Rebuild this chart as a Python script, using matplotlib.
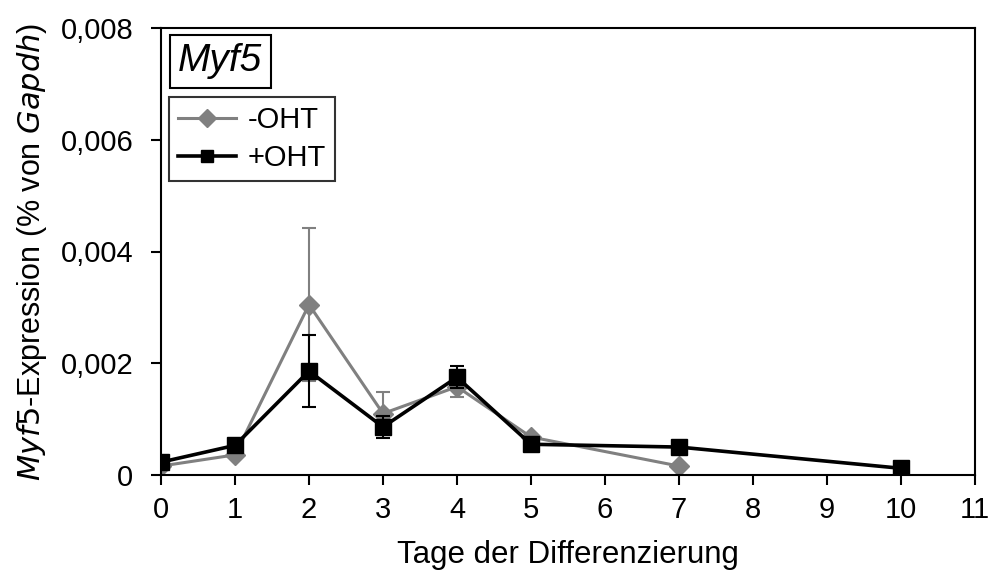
import numpy as np
import matplotlib.pyplot as plt
from matplotlib.ticker import FuncFormatter
from matplotlib.lines import Line2D

plt.rcParams['font.family'] = ['Liberation Sans', 'DejaVu Sans']

# Data: days of differentiation and Myf5 expression (% of Gapdh)
days_minus = [0, 1, 2, 3, 4, 5, 7]
expr_minus = [0.00016, 0.00036, 0.00305, 0.0011, 0.00158, 0.00068, 0.00016]
err_minus = [0.00003, 0.00004, 0.00137, 0.00038, 0.00018, 0.00005, 0.00003]

days_plus = [0, 1, 2, 3, 4, 5, 7, 10]
expr_plus = [0.00023, 0.00053, 0.00186, 0.00086, 0.00175, 0.00055, 0.0005, 0.00012]
err_plus = [0.00003, 0.00004, 0.00065, 0.0002, 0.0002, 0.00004, 0.00003, 0.00002]

fig = plt.figure(figsize=(9.94, 5.75), dpi=100)
ax = fig.add_axes([161/994, 1-475/575, 814/994, 447/575])

ax.errorbar(days_minus, expr_minus, yerr=err_minus, color='#808080', marker='D',
            markersize=10.5, linewidth=2.2, elinewidth=1.5, capsize=5, capthick=1.5,
            zorder=2)
ax.errorbar(days_plus, expr_plus, yerr=err_plus, color='black', marker='s',
            markersize=11, linewidth=2.6, elinewidth=1.5, capsize=5, capthick=1.5,
            zorder=3)

ax.set_xlim(0, 11)
ax.set_ylim(0, 0.008)
ax.set_xticks(range(0, 12))
ax.set_yticks([0, 0.002, 0.004, 0.006, 0.008])
ax.yaxis.set_major_formatter(FuncFormatter(lambda v, p: '0' if v == 0 else f'{v:.3f}'.replace('.', ',')))
ax.tick_params(direction='out', length=7, width=1.5, labelsize=21)
ax.tick_params(axis='x', pad=8)
ax.tick_params(axis='y', pad=13)
for s in ax.spines.values():
    s.set_linewidth(1.5)

ax.set_xlabel('Tage der Differenzierung', fontsize=22.5, labelpad=12)
ax.set_ylabel('$\\it{Myf5}$-Expression (% von $\\it{Gapdh}$)', fontsize=22, labelpad=8)

ax.text(0.021, 0.966, 'Myf5', transform=ax.transAxes, fontsize=28, style='italic',
        va='top', ha='left',
        bbox=dict(boxstyle='square,pad=0.22', facecolor='white', edgecolor='black', linewidth=1.5))

handles = [Line2D([], [], color='#808080', marker='D', markersize=9.5, linewidth=2.2),
           Line2D([], [], color='black', marker='s', markersize=8.5, linewidth=2.6)]
leg = ax.legend(handles, ['-OHT', '+OHT'], loc='upper left', bbox_to_anchor=(0.01, 0.845),
                fontsize=21, frameon=True, fancybox=False, edgecolor='black',
                handlelength=2.0, handletextpad=0.4, borderpad=0.3, labelspacing=0.35,
                borderaxespad=0)
leg.get_frame().set_linewidth(1.5)

fig.savefig('out.png', dpi=100)
